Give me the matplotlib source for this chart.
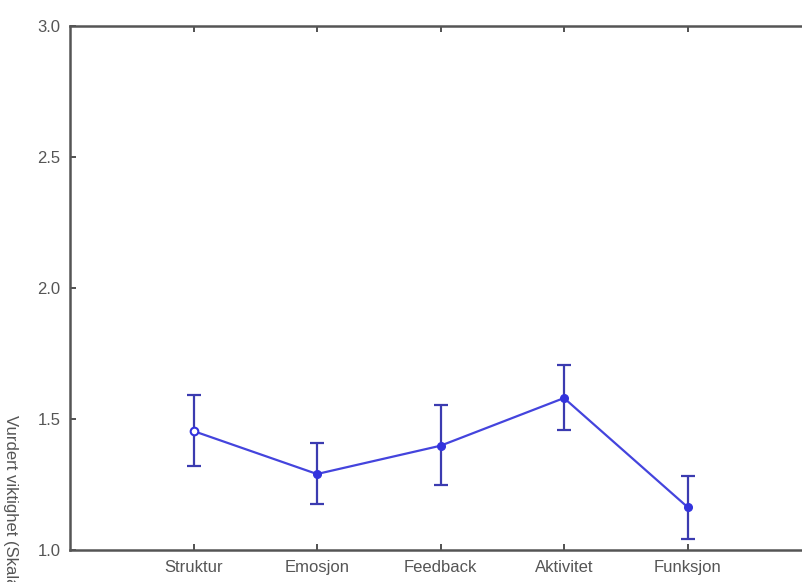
import matplotlib
matplotlib.use("Agg")
import matplotlib.pyplot as plt

# Data
categories = ["Struktur", "Emosjon", "Feedback", "Aktivitet", "Funksjon"]
means = [1.454, 1.290, 1.398, 1.580, 1.164]
upper = [1.592, 1.410, 1.552, 1.706, 1.282]
lower = [1.320, 1.175, 1.248, 1.458, 1.042]
y_ticks = [1.0, 1.5, 2.0, 2.5, 3.0]

positions = list(range(1, len(categories) + 1))
err_lo = [m - l for m, l in zip(means, lower)]
err_hi = [u - m for m, u in zip(means, upper)]

plt.rcParams["font.family"] = ["Liberation Sans", "DejaVu Sans"]

fig = plt.figure(figsize=(8.02, 5.82), dpi=100)
ax = fig.add_axes([70 / 802, 1 - 550 / 582, 741 / 802, 524 / 582])

ax.errorbar(positions, means, yerr=[err_lo, err_hi], fmt="none",
            ecolor="#3b3bb0", elinewidth=1.6, capsize=5, capthick=1.6,
            zorder=2)
ax.plot(positions, means, color="#4444dd", linewidth=1.6, zorder=3)
# first point hollow, the rest filled
ax.plot(positions[:1], means[:1], "o", markersize=5.5, markerfacecolor="white",
        markeredgecolor="#3333dd", markeredgewidth=1.5, zorder=4)
ax.plot(positions[1:], means[1:], "o", markersize=5.5, color="#3333dd", zorder=4)

ax.set_xlim(0, 6)
ax.set_ylim(1.0, 3.0)
ax.set_xticks(positions)
ax.set_xticklabels(categories)
ax.set_yticks(y_ticks)
ax.set_yticklabels([f"{t:.1f}" for t in y_ticks])

ax.tick_params(direction="in", length=4, width=1.2, color="#333333",
               labelsize=12, labelcolor="#555555", top=True, pad=7)
for spine in ax.spines.values():
    spine.set_edgecolor("#555555")
    spine.set_linewidth(1.8)

fig.text(10 / 802, 1 - 415 / 582, "Vurdert viktighet (Skala 1-3)",
         rotation=-90, ha="center", va="top", fontsize=12, color="#555555")

fig.savefig("out.png", dpi=100)
